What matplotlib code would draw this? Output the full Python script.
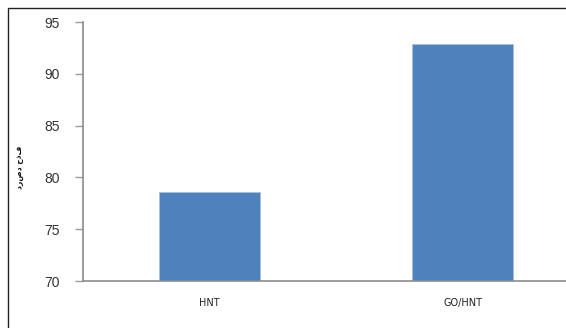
import matplotlib
matplotlib.use("Agg")
import matplotlib.pyplot as plt
from matplotlib.patches import Rectangle

categories = ["HNT", "GO/HNT"]
removal = [78.6, 92.9]
y_ticks = [70, 75, 80, 85, 90, 95]
y_label = "درصد حذف"

plt.rcParams["font.family"] = ["Liberation Sans", "DejaVu Sans"]

W, H = 566, 328
fig = plt.figure(figsize=(W / 100, H / 100), dpi=100)

# outer chart frame (left and top edges visible)
fig.add_artist(Rectangle((8 / W, -0.1), 1.2, 1.1 - 8 / H,
                         transform=fig.transFigure, fill=False,
                         edgecolor="#222222", linewidth=1.0))

ax = fig.add_axes([83 / W, 1 - 281 / H, 506 / W, (281 - 22) / H])
x = list(range(len(categories)))
ax.bar(x, removal, width=0.4, color="#4F81BD", edgecolor="#A7BFDE", linewidth=0.6)

ax.set_xlim(-0.5, 1.5)
ax.set_ylim(70, 95)
ax.set_yticks(y_ticks)
ax.set_yticklabels([str(v) for v in y_ticks], fontsize=10, color="#333333")
ax.set_xticks(x)
ax.set_xticklabels(categories, fontsize=7, color="#222222", family=["DejaVu Sans"])
ax.tick_params(axis="x", length=0, pad=12)
ax.tick_params(axis="y", length=6, width=1, color="#9a9a9a", pad=11)

for s in ["top", "right"]:
    ax.spines[s].set_visible(False)
for s in ["left", "bottom"]:
    ax.spines[s].set_color("#8c8c8c")
    ax.spines[s].set_linewidth(1.2)

fig.text(20 / W, 1 - 167 / H, y_label, rotation=90, fontsize=5.5,
         family=["DejaVu Sans"], fontweight="bold",
         ha="center", va="center", color="#111111")

fig.savefig("out.png", dpi=100)
